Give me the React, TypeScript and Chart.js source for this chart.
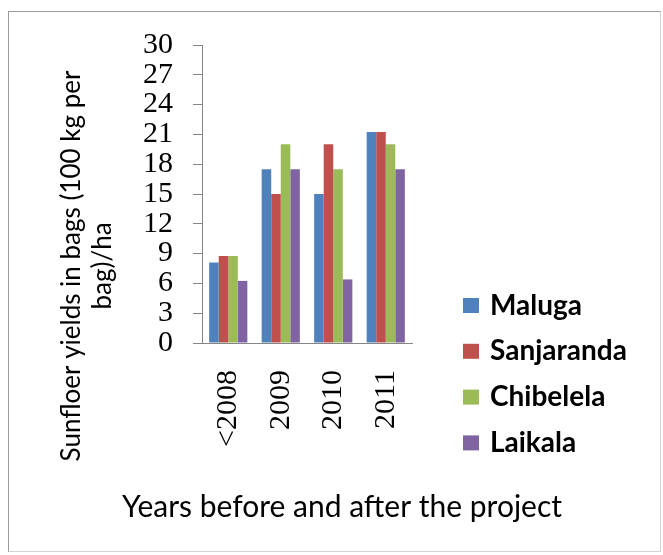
import React, { useEffect, useRef } from "react";
import { Chart, registerables } from "chart.js";

Chart.register(...registerables);

const categories = ["<2008", "2009", "2010", "2011"];
const seriesNames = ["Maluga", "Sanjaranda", "Chibelela", "Laikala"];
const maluga = [8.1, 17.5, 15, 21.25];
const sanjaranda = [8.75, 15, 20, 21.25];
const chibelela = [8.75, 20, 17.5, 20];
const laikala = [6.25, 17.5, 6.4, 17.5];
const seriesColors = ["#4F81BD", "#C0504D", "#9BBB59", "#8064A2"];
const yMin = 0;
const yMax = 30;
const yStep = 3;
const yTitle = ["Sunfloer yields in bags (100 kg per", "bag)/ha"];
const xTitle = "Years before and after the project";

const SANS = "Lato, 'Open Sans', sans-serif";
const SERIF = "'Liberation Serif', 'Times New Roman', serif";

const legendAndTitles = {
  id: "legendAndTitles",
  afterDraw(chart: any) {
    const ctx = chart.ctx;
    ctx.save();
    // legend
    ctx.font = `bold 28px ${SANS}`;
    ctx.textBaseline = "middle";
    ctx.textAlign = "left";
    chart.data.datasets.forEach((ds: any, i: number) => {
      const cy = 305.5 + i * 45.8;
      ctx.fillStyle = ds.backgroundColor;
      ctx.fillRect(463, cy - 7.5, 16, 15);
      ctx.fillStyle = "#000";
      ctx.fillText(ds.label, 490, cy);
    });
    // x axis title
    ctx.font = `30px ${SANS}`;
    ctx.textAlign = "center";
    ctx.fillStyle = "#000";
    ctx.fillText(xTitle, 342, 507);
    // y axis title
    ctx.font = `26px ${SANS}`;
    yTitle.forEach((line, i) => {
      ctx.save();
      ctx.translate(72 + i * 31, 266);
      ctx.rotate(-Math.PI / 2);
      ctx.fillText(line, 0, 0);
      ctx.restore();
    });
    ctx.restore();
  },
};

export default function App() {
  const ref = useRef<HTMLCanvasElement | null>(null);
  useEffect(() => {
    if (!ref.current) return;
    const allSeries = [maluga, sanjaranda, chibelela, laikala];
    const chart = new Chart(ref.current, {
      type: "bar",
      data: {
        labels: categories,
        datasets: allSeries.map((d, i) => ({
          label: seriesNames[i],
          data: d,
          backgroundColor: seriesColors[i],
          borderWidth: 0,
          categoryPercentage: 4 / 5.5,
          barPercentage: 1,
        })),
      },
      options: {
        animation: false,
        responsive: false,
        maintainAspectRatio: false,
        layout: { padding: { top: 45, right: 251, left: 0, bottom: 0 } },
        plugins: {
          legend: { display: false },
          tooltip: { enabled: false },
          title: { display: false },
        },
        scales: {
          x: {
            afterFit: (s: any) => {
              s.height = 212;
            },
            grid: { display: false, drawTicks: false },
            border: { display: true, color: "#868686", width: 1 },
            ticks: {
              minRotation: 90,
              maxRotation: 90,
              autoSkip: false,
              padding: 27,
              color: "#000",
              font: { family: SERIF, size: 30 },
            },
          },
          y: {
            min: yMin,
            max: yMax,
            afterFit: (s: any) => {
              s.width = 202;
            },
            grid: {
              drawOnChartArea: false,
              drawTicks: true,
              tickLength: 9,
              color: "#868686",
            },
            border: { display: true, color: "#868686", width: 1 },
            ticks: {
              stepSize: yStep,
              autoSkip: false,
              padding: 20,
              color: "#000",
              font: { family: SERIF, size: 30 },
            },
          },
        },
      },
      plugins: [legendAndTitles],
    });
    return () => chart.destroy();
  }, []);

  return (
    <div>
      <div
        style={{
          position: "absolute",
          left: 8,
          top: 11,
          width: 653,
          height: 541,
          boxSizing: "border-box",
          borderTop: "1px solid #9a9a9a",
          borderLeft: "1px solid #9a9a9a",
          borderRight: "1px solid #d4d4d4",
          borderBottom: "1px solid #d4d4d4",
        }}
      />
      <canvas
        ref={ref}
        width={663}
        height={555}
        style={{ position: "absolute", left: 0, top: 0, width: 663, height: 555 }}
      />
    </div>
  );
}
